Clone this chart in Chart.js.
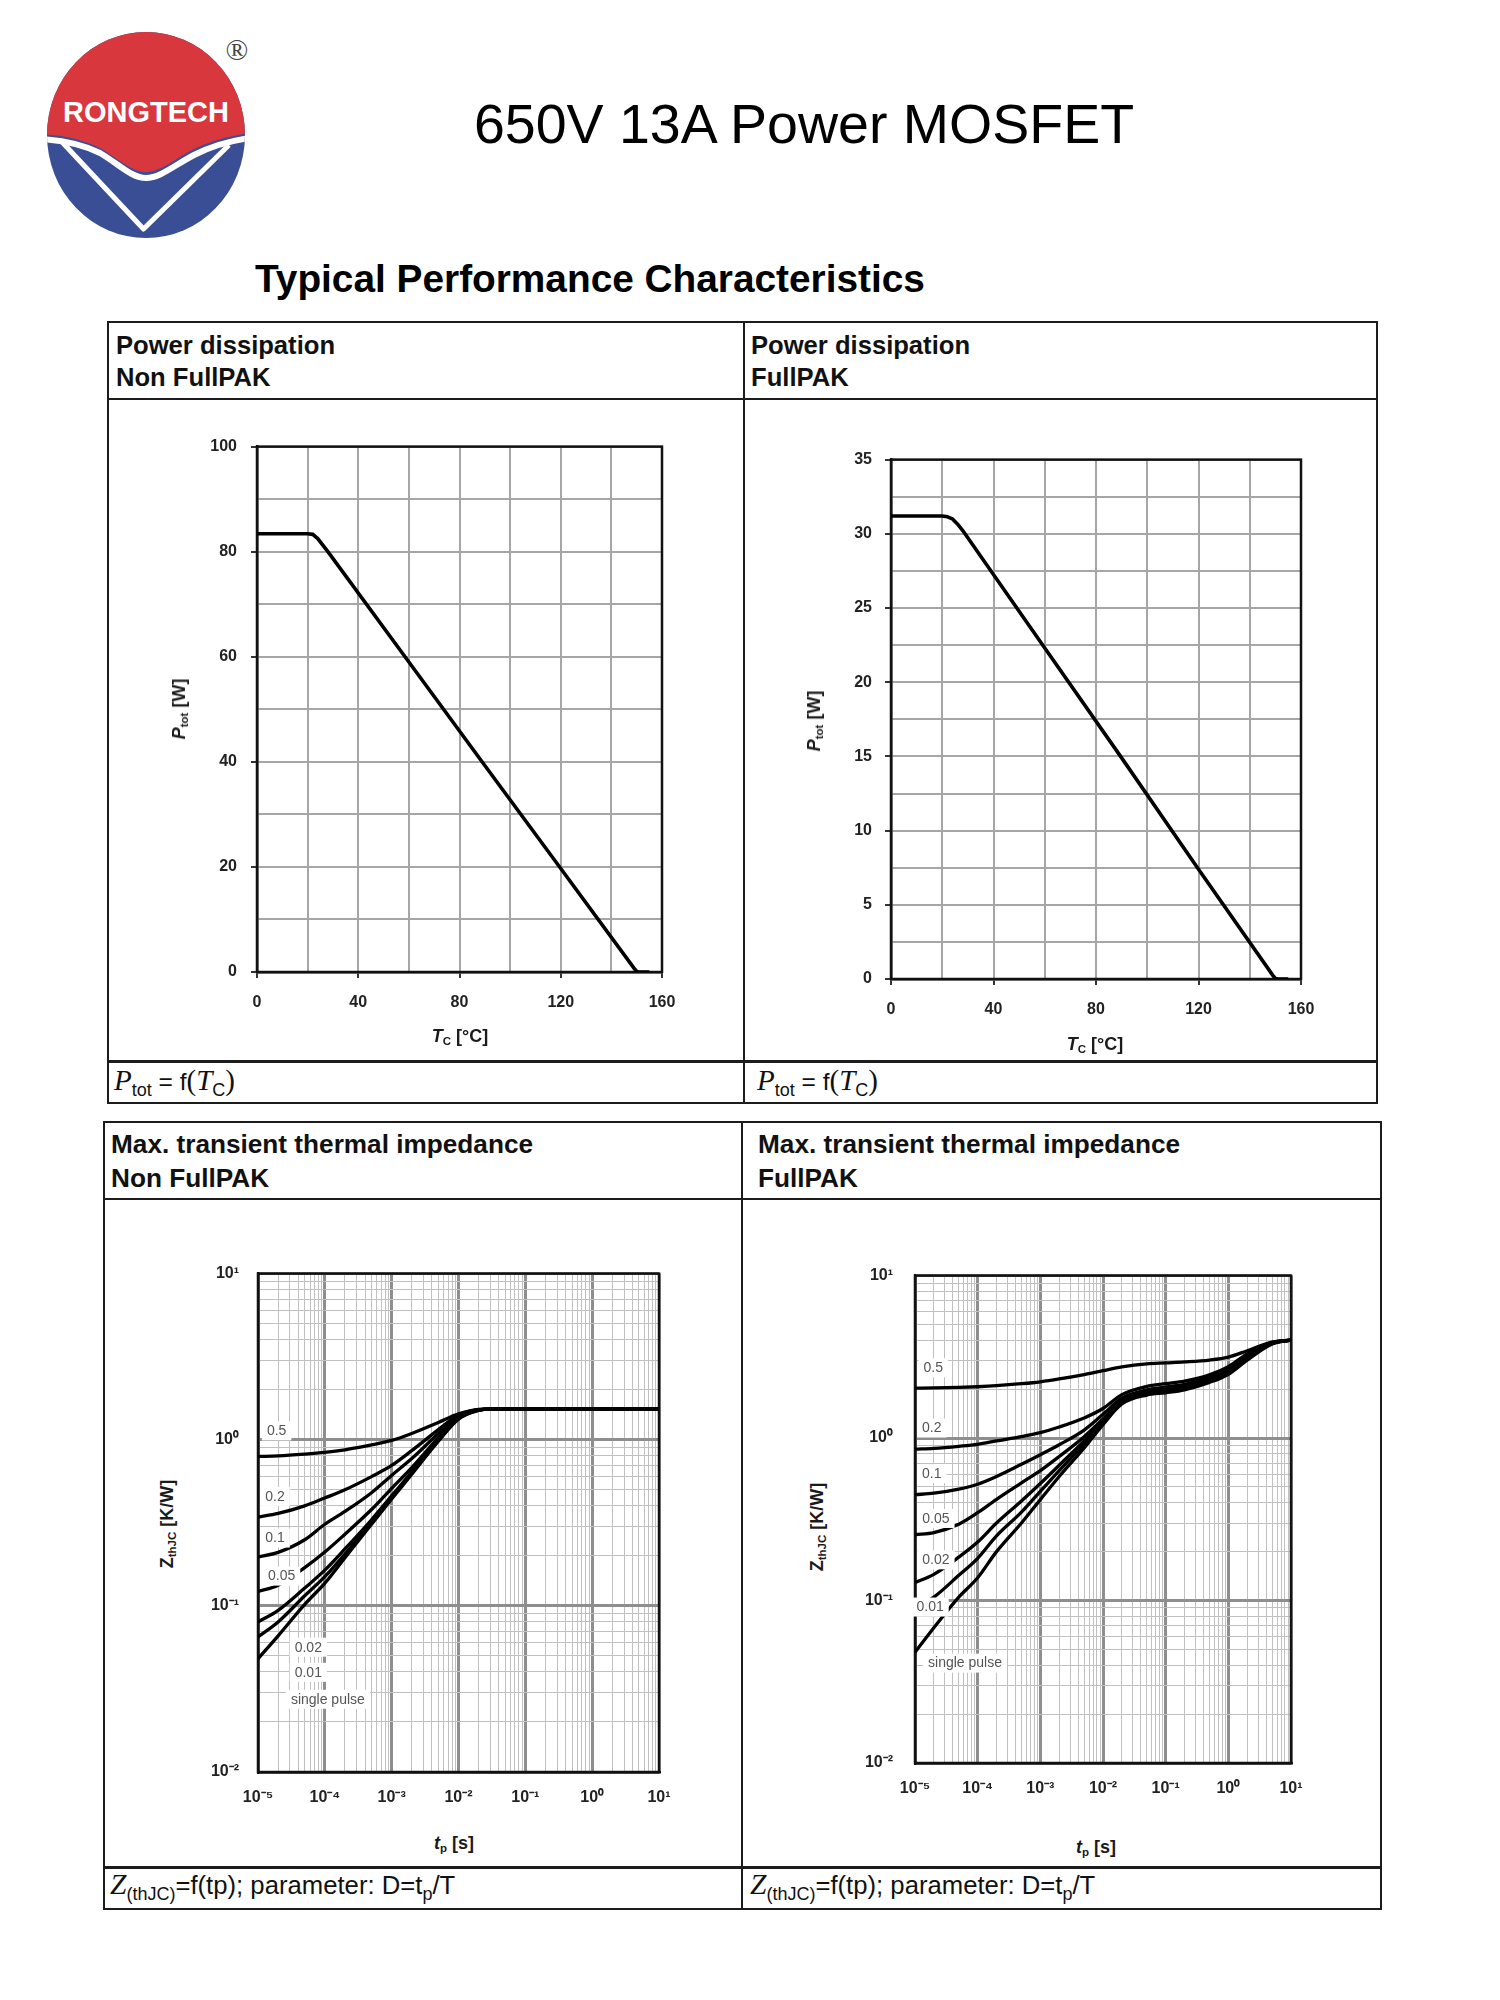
<!DOCTYPE html>
<html>
<head>
<meta charset="utf-8">
<title>650V 13A Power MOSFET</title>
<script src="https://cdn.jsdelivr.net/npm/chart.js@4.4.1/dist/chart.umd.min.js"></script>
<style>
html,body{margin:0;padding:0;background:#fff}
body{position:relative;width:1500px;height:2000px;overflow:hidden;font-family:"Liberation Sans",Arial,Helvetica,sans-serif;color:#000}
.abs{position:absolute}
.ln{position:absolute;background:#1c1c1c}
.box{position:absolute;border:2px solid #1c1c1c;box-sizing:border-box}
.hdr{position:absolute;font-weight:bold;font-size:25.6px;line-height:32px;white-space:nowrap;color:#111}
.hdr.b{line-height:34px;font-size:26.2px}
.foot{position:absolute;font-size:24.5px;line-height:30px;white-space:nowrap;color:#111}
.foot .tm{font-family:"Liberation Serif","Times New Roman",serif;font-style:italic;font-size:29px}
.foot .tr{font-family:"Liberation Serif","Times New Roman",serif;font-size:29px}
.foot sub{font-size:18px;line-height:0;vertical-align:-6px}
.at{position:absolute;font-weight:bold;font-size:18px;line-height:20px;white-space:nowrap;color:#1a1a1a;transform:translate(-50%,-50%)}
.at.rot{transform:translate(-50%,-50%) rotate(-90deg)}
.at sub{font-size:11.5px;line-height:0;vertical-align:-3px}
canvas{position:absolute}
</style>
</head>
<body>

<!-- logo -->
<svg class="abs" style="left:0;top:0" width="300" height="260">
  <defs><clipPath id="ell"><ellipse cx="146" cy="135" rx="99" ry="103"/></clipPath></defs>
  <g clip-path="url(#ell)">
    <rect x="40" y="25" width="220" height="220" fill="#3a4e96"/>
    <path d="M40 25 H260 V132 C235 134 212 140 192 150 C175 159 160 172 146 172 C132 172 120 160 100 148 C82 139 62 135 40 134 Z" fill="#d8373e"/>
    <path d="M40 139 C62 140 82 144 100 153 C120 165 132 178 146 178 C160 178 175 165 194 155 C214 145 236 139 260 137" stroke="#fff" stroke-width="6" fill="none"/>
    <path d="M62 142 L143.5 229 L229 145" stroke="#fff" stroke-width="5" fill="none" stroke-linejoin="round"/>
  </g>
  <text x="146" y="122" font-family="Liberation Sans Narrow, Liberation Sans, Arial, sans-serif" font-weight="bold" font-size="29" fill="#fff" text-anchor="middle" textLength="166" lengthAdjust="spacingAndGlyphs">RONGTECH</text>
  <text x="237" y="60" font-family="Liberation Serif, serif" font-size="30" fill="#444" text-anchor="middle">®</text>
</svg>

<div class="abs" style="left:304px;top:97px;width:1000px;text-align:center;font-size:55.5px;line-height:55px;white-space:nowrap">650V 13A Power MOSFET</div>
<div class="abs" style="left:255px;top:260px;font-size:38.8px;line-height:38px;font-weight:bold;white-space:nowrap">Typical Performance Characteristics</div>

<!-- top panel frame -->
<div class="box" style="left:107px;top:321px;width:1271px;height:783px"></div>
<div class="ln" style="left:107px;top:398px;width:1271px;height:2px"></div>
<div class="ln" style="left:107px;top:1060px;width:1271px;height:2.5px"></div>
<div class="ln" style="left:743px;top:321px;width:2px;height:783px"></div>

<!-- bottom panel frame -->
<div class="box" style="left:103px;top:1121px;width:1279px;height:789px"></div>
<div class="ln" style="left:103px;top:1198px;width:1279px;height:2px"></div>
<div class="ln" style="left:103px;top:1866px;width:1279px;height:2.5px"></div>
<div class="ln" style="left:741px;top:1121px;width:2px;height:789px"></div>

<!-- headers -->
<div class="hdr" style="left:116px;top:329px">Power dissipation<br>Non FullPAK</div>
<div class="hdr" style="left:751px;top:329px">Power dissipation<br>FullPAK</div>
<div class="hdr b" style="left:111px;top:1127px">Max. transient thermal impedance<br>Non FullPAK</div>
<div class="hdr b" style="left:758px;top:1127px">Max. transient thermal impedance<br>FullPAK</div>

<div id="charts"></div>

<!-- axis titles -->
<div class="at rot" style="left:179px;top:709px"><i>P</i><sub>tot</sub> [W]</div>
<div class="at" style="left:460px;top:1036px"><i>T</i><sub>C</sub> [°C]</div>
<div class="at rot" style="left:814px;top:721px"><i>P</i><sub>tot</sub> [W]</div>
<div class="at" style="left:1095px;top:1044px"><i>T</i><sub>C</sub> [°C]</div>
<div class="at rot" style="left:167px;top:1524px">Z<sub>thJC</sub> [K/W]</div>
<div class="at" style="left:454px;top:1843px"><i>t</i><sub>p</sub> [s]</div>
<div class="at rot" style="left:817px;top:1527px">Z<sub>thJC</sub> [K/W]</div>
<div class="at" style="left:1096px;top:1847px"><i>t</i><sub>p</sub> [s]</div>

<!-- footers -->
<div class="foot" style="left:114px;top:1065px"><span class="tm">P</span><sub>tot</sub> = f<span class="tr">(</span><span class="tm">T</span><sub>C</sub><span class="tr">)</span></div>
<div class="foot" style="left:757px;top:1065px"><span class="tm">P</span><sub>tot</sub> = f<span class="tr">(</span><span class="tm">T</span><sub>C</sub><span class="tr">)</span></div>
<div class="foot" style="left:110px;top:1869px;font-size:25.7px"><span class="tm" style="font-size:29.5px">Z</span><sub>(thJC)</sub>=f(tp); parameter: D=t<sub>p</sub>/T</div>
<div class="foot" style="left:750px;top:1869px;font-size:25.7px"><span class="tm" style="font-size:29.5px">Z</span><sub>(thJC)</sub>=f(tp); parameter: D=t<sub>p</sub>/T</div>

<script>
// ================= DATA =================
// Power dissipation vs case temperature
const tcNonFullPAK   = [0, 20, 22, 24, 26, 28, 60, 90, 120, 149, 150, 151, 155];
const ptotNonFullPAK = [83.4, 83.4, 83.3, 82.5, 81.25, 80.0, 59.0, 39.3, 19.7, 0.7, 0.1, 0, 0];
const tcFullPAK      = [0, 20, 22, 24, 26, 28, 60, 90, 120, 149, 150, 151, 155];
const ptotFullPAK    = [31.2, 31.2, 31.15, 31.0, 30.65, 30.22, 22.3, 14.9, 7.4, 0.25, 0.04, 0, 0];

// tick labels
const tcTickLabels        = [0, 40, 80, 120, 160];
const ptotTickLabelsNonFP = [0, 20, 40, 60, 80, 100];
const ptotTickLabelsFP    = [0, 5, 10, 15, 20, 25, 30, 35];
const tpDecades  = [1e-5, 1e-4, 1e-3, 1e-2, 1e-1, 1, 10];
const zthDecades = [1e-2, 1e-1, 1, 10];

// duty cycle parameter names
const dutyCycles = ['0.5', '0.2', '0.1', '0.05', '0.02', '0.01', 'single pulse'];

// Transient thermal impedance, Non FullPAK
const tpNonFullPAK     = [1e-5, 2e-5, 5e-5, 1e-4, 2e-4, 5e-4, 1e-3, 2e-3, 5e-3, 1e-2, 2e-2, 3e-2, 1e-1, 1, 10];
const zthNonFP_D05     = [0.793, 0.80, 0.82, 0.84, 0.87, 0.93, 0.99, 1.09, 1.27, 1.43, 1.525, 1.53, 1.53, 1.53, 1.53];
const zthNonFP_D02     = [0.342, 0.36, 0.40, 0.446, 0.50, 0.60, 0.70, 0.86, 1.15, 1.41, 1.52, 1.53, 1.53, 1.53, 1.53];
const zthNonFP_D01     = [0.197, 0.21, 0.25, 0.31, 0.37, 0.48, 0.61, 0.77, 1.09, 1.39, 1.515, 1.53, 1.53, 1.53, 1.53];
const zthNonFP_D005    = [0.122, 0.133, 0.17, 0.211, 0.27, 0.38, 0.51, 0.68, 1.03, 1.37, 1.51, 1.53, 1.53, 1.53, 1.53];
const zthNonFP_D002    = [0.080, 0.094, 0.128, 0.164, 0.22, 0.33, 0.46, 0.64, 1.00, 1.35, 1.51, 1.53, 1.53, 1.53, 1.53];
const zthNonFP_D001    = [0.065, 0.080, 0.115, 0.150, 0.205, 0.32, 0.45, 0.63, 0.99, 1.34, 1.505, 1.53, 1.53, 1.53, 1.53];
const zthNonFP_single  = [0.048, 0.066, 0.102, 0.137, 0.195, 0.31, 0.44, 0.62, 0.98, 1.33, 1.50, 1.53, 1.53, 1.53, 1.53];

// Transient thermal impedance, FullPAK
const tpFullPAK     = [1e-5, 2e-5, 5e-5, 1e-4, 2e-4, 5e-4, 1e-3, 2e-3, 5e-3, 1e-2, 2e-2, 5e-2, 1e-1, 2e-1, 5e-1, 1, 2, 5, 10];
const zthFP_D05     = [2.03, 2.035, 2.05, 2.07, 2.10, 2.16, 2.22, 2.31, 2.46, 2.60, 2.74, 2.86, 2.90, 2.94, 3.02, 3.15, 3.45, 3.90, 4.01];
const zthFP_D02     = [0.855, 0.865, 0.89, 0.915, 0.96, 1.02, 1.08, 1.17, 1.33, 1.52, 1.85, 2.08, 2.16, 2.24, 2.45, 2.75, 3.30, 3.88, 4.01];
const zthFP_D01     = [0.448, 0.458, 0.485, 0.52, 0.58, 0.69, 0.79, 0.91, 1.12, 1.40, 1.76, 1.98, 2.06, 2.14, 2.36, 2.66, 3.22, 3.86, 4.01];
const zthFP_D005    = [0.254, 0.262, 0.295, 0.347, 0.42, 0.53, 0.63, 0.77, 1.02, 1.31, 1.70, 1.93, 2.01, 2.09, 2.31, 2.60, 3.16, 3.84, 4.01];
const zthFP_D002    = [0.129, 0.145, 0.185, 0.229, 0.30, 0.41, 0.525, 0.68, 0.96, 1.27, 1.67, 1.90, 1.97, 2.05, 2.27, 2.56, 3.12, 3.83, 4.01];
const zthFP_D001    = [0.090, 0.105, 0.143, 0.182, 0.25, 0.35, 0.47, 0.63, 0.92, 1.24, 1.65, 1.88, 1.94, 2.02, 2.24, 2.52, 3.08, 3.82, 4.01];
const zthFP_single  = [0.048, 0.068, 0.105, 0.138, 0.20, 0.30, 0.418, 0.58, 0.87, 1.21, 1.62, 1.84, 1.90, 1.98, 2.20, 2.47, 3.02, 3.80, 4.01];

// ================= HELPERS =================
Chart.defaults.font.family = '"Liberation Sans", Arial, Helvetica, sans-serif';

const SUP = {'-':'\u207B','0':'\u2070','1':'\u00B9','2':'\u00B2','3':'\u00B3','4':'\u2074','5':'\u2075','6':'\u2076','7':'\u2077','8':'\u2078','9':'\u2079'};
const isDecade = v => Math.abs(Math.log10(v) - Math.round(Math.log10(v))) < 1e-6;
const pow10Label = v => '10' + String(Math.round(Math.log10(v))).split('').map(c => SUP[c]).join('');
function logGrid(decades) {
  const out = [];
  decades.forEach((d, i) => {
    out.push(d);
    if (i < decades.length - 1) for (let m = 2; m <= 9; m++) out.push(+(m * d).toPrecision(6));
  });
  return out;
}
const pts = (xs, ys) => xs.map((x, i) => ({x: x, y: ys[i]}));
const near = (list, v) => list.some(a => Math.abs(a - v) < 1e-9);

const framePlugin = {
  id: 'frame',
  beforeDatasetsDraw(chart) {
    const {ctx, chartArea: a} = chart;
    ctx.save();
    ctx.strokeStyle = '#111';
    ctx.lineWidth = 2.5;
    ctx.strokeRect(a.left, a.top, a.right - a.left, a.bottom - a.top);
    ctx.restore();
  }
};
function curveLabelPlugin(items) {
  return {
    id: 'curveLabels',
    afterDatasetsDraw(chart) {
      if (!items) return;
      const {ctx} = chart;
      const xs = chart.scales.x, ys = chart.scales.y;
      ctx.save();
      ctx.font = '14px "Liberation Sans", Arial, sans-serif';
      ctx.textAlign = 'center';
      ctx.textBaseline = 'middle';
      items.forEach(it => {
        const px = xs.getPixelForValue(it.t), py = ys.getPixelForValue(it.z);
        const w = ctx.measureText(it.text).width + 10, h = 19;
        ctx.fillStyle = '#fff';
        ctx.fillRect(px - w / 2, py - h / 2, w, h);
        ctx.fillStyle = '#555';
        ctx.fillText(it.text, px, py + 0.5);
      });
      ctx.restore();
    }
  };
}

function buildChart(g, xScale, yScale, datasets, labelItems) {
  const cv = document.createElement('canvas');
  const w = g.yW + (g.R - g.L) + g.padR;
  const h = g.padT + (g.B - g.T) + g.xH;
  cv.width = w; cv.height = h;
  cv.style.left = (g.L - g.yW) + 'px';
  cv.style.top = (g.T - g.padT) + 'px';
  cv.style.width = w + 'px';
  cv.style.height = h + 'px';
  document.getElementById('charts').appendChild(cv);
  xScale.afterFit = s => { s.height = g.xH; };
  yScale.afterFit = s => { s.width = g.yW; };
  return new Chart(cv.getContext('2d'), {
    type: 'line',
    data: {datasets: datasets},
    options: {
      responsive: false, animation: false, devicePixelRatio: 1,
      layout: {padding: {left: 0, top: g.padT, right: g.padR, bottom: 0}},
      plugins: {legend: {display: false}, tooltip: {enabled: false}},
      elements: {point: {radius: 0}},
      scales: {x: xScale, y: yScale}
    },
    plugins: [framePlugin, curveLabelPlugin(labelItems)]
  });
}

const tickFont = {size: 16, weight: 'bold'};
function linScale(min, max, step, labels, padding) {
  return {
    type: 'linear', min: min, max: max,
    ticks: {stepSize: step, autoSkip: false, maxRotation: 0, padding: padding, color: '#222', font: tickFont,
            callback: v => near(labels, v) ? String(v) : ''},
    grid: {color: '#a6a6a6', lineWidth: 2, tickLength: 6, tickWidth: 2,
           tickColor: c => (c.tick && near(labels, c.tick.value)) ? '#333' : 'rgba(0,0,0,0)'},
    border: {display: true, color: '#111', width: 2.5}
  };
}
function logScale(min, max, decades, padding) {
  const grid = logGrid(decades);
  return {
    type: 'logarithmic', min: min, max: max,
    afterBuildTicks: s => { s.ticks = grid.map(v => ({value: v})); },
    ticks: {autoSkip: false, maxRotation: 0, padding: padding, color: '#222', font: {size: 16, weight: 'bold'},
            callback: v => isDecade(v) ? pow10Label(v) : ''},
    grid: {drawTicks: false,
           color: c => (c.tick && isDecade(c.tick.value)) ? '#8e8e8e' : '#c0c0c0',
           lineWidth: c => (c.tick && isDecade(c.tick.value)) ? 3 : 1},
    border: {display: true, color: '#111', width: 2.5}
  };
}
const curve = (xs, ys, w, smooth) => ({data: pts(xs, ys), borderColor: '#000', borderWidth: w || 3.5,
  cubicInterpolationMode: smooth ? 'monotone' : 'default', tension: 0, pointRadius: 0, fill: false});

// ================= CHARTS =================
// 1: Power dissipation, Non FullPAK
buildChart({L: 257, T: 443, R: 662, B: 972, yW: 70, xH: 60, padT: 20, padR: 30},
  linScale(0, 160, 20, tcTickLabels, 15),
  linScale(0, 100, 10, ptotTickLabelsNonFP, 14),
  [curve(tcNonFullPAK, ptotNonFullPAK, 3.6, false)], null);

// 2: Power dissipation, FullPAK
buildChart({L: 890.5, T: 457, R: 1300.5, B: 979, yW: 70, xH: 60, padT: 20, padR: 30},
  linScale(0, 160, 20, tcTickLabels, 15),
  linScale(0, 35, 2.5, ptotTickLabelsFP, 13),
  [curve(tcFullPAK, ptotFullPAK, 3.6, false)], null);

// 3: Zth, Non FullPAK
const nonFPSeries = [zthNonFP_D05, zthNonFP_D02, zthNonFP_D01, zthNonFP_D005, zthNonFP_D002, zthNonFP_D001, zthNonFP_single];
buildChart({L: 258, T: 1265, R: 659, B: 1772, yW: 80, xH: 60, padT: 20, padR: 30},
  logScale(1e-5, 10, tpDecades, 16),
  logScale(1e-2, 10, zthDecades, 19),
  nonFPSeries.map(s => curve(tpNonFullPAK, s, 3.3, true)),
  [
    {text: dutyCycles[0], t: 1.9e-5, z: 1.13},
    {text: dutyCycles[1], t: 1.8e-5, z: 0.456},
    {text: dutyCycles[2], t: 1.8e-5, z: 0.256},
    {text: dutyCycles[3], t: 2.26e-5, z: 0.151},
    {text: dutyCycles[4], t: 5.66e-5, z: 0.0564},
    {text: dutyCycles[5], t: 5.66e-5, z: 0.0398},
    {text: dutyCycles[6], t: 1.11e-4, z: 0.0274}
  ]);

// 4: Zth, FullPAK
const fpSeries = [zthFP_D05, zthFP_D02, zthFP_D01, zthFP_D005, zthFP_D002, zthFP_D001, zthFP_single];
buildChart({L: 915, T: 1264, R: 1291, B: 1763, yW: 80, xH: 60, padT: 20, padR: 30},
  logScale(1e-5, 10, tpDecades, 16),
  logScale(1e-2, 10, zthDecades, 22),
  fpSeries.map(s => curve(tpFullPAK, s, 3.3, true)),
  [
    {text: dutyCycles[0], t: 1.96e-5, z: 2.71},
    {text: dutyCycles[1], t: 1.85e-5, z: 1.153},
    {text: dutyCycles[2], t: 1.85e-5, z: 0.604},
    {text: dutyCycles[3], t: 2.16e-5, z: 0.320},
    {text: dutyCycles[4], t: 2.16e-5, z: 0.178},
    {text: dutyCycles[5], t: 1.74e-5, z: 0.0912},
    {text: dutyCycles[6], t: 6.28e-5, z: 0.0412}
  ]);
</script>
</body>
</html>
